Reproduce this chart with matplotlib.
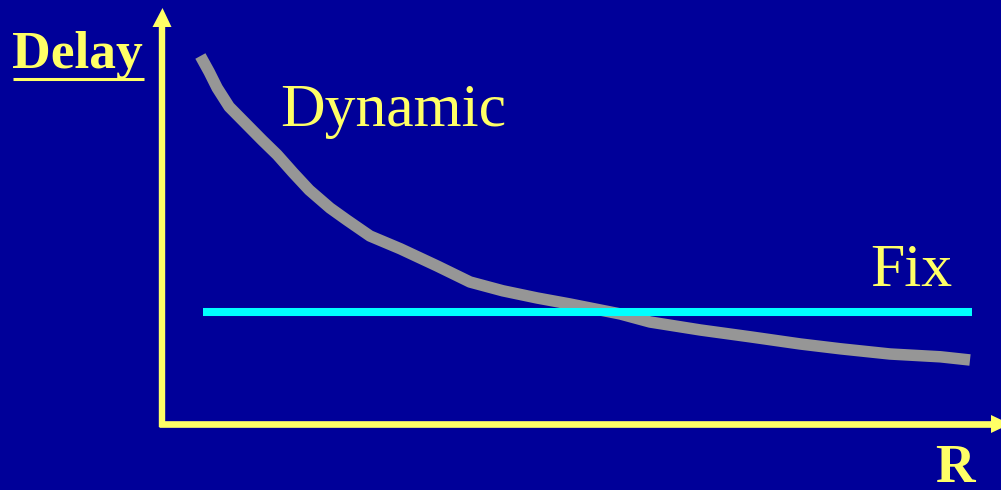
import matplotlib
matplotlib.use("Agg")
import matplotlib.pyplot as plt
from matplotlib.patches import Polygon

# ---- data (R units horizontally, Delay units vertically) ----
dynamic_r = [0.48, 0.59, 0.69, 0.84, 1.25, 1.44, 1.64, 1.84, 2.10, 2.31, 2.60,
             2.98, 3.44, 3.85, 4.26, 4.69, 5.10, 5.73, 6.10, 6.73, 7.35, 7.98,
             8.48, 9.10, 9.73, 10.10]
dynamic_delay = [9.20, 8.80, 8.40, 7.93, 7.10, 6.73, 6.28, 5.85, 5.40, 5.10, 4.70,
                 4.38, 3.95, 3.55, 3.33, 3.15, 3.00, 2.75, 2.55, 2.35, 2.18, 2.00,
                 1.88, 1.75, 1.68, 1.60]
fix_r = [0.51, 10.12]
fix_delay = [2.80, 2.80]

label_y = "Delay"
label_x = "R"
label_dynamic = "Dynamic"
label_fix = "Fix"

BG = "#000099"
YELLOW = "#FFFF66"
GRAY = "#969696"
CYAN = "#00FFFF"

W, H = 1001, 490
fig = plt.figure(figsize=(W / 100, H / 100), dpi=100, facecolor=BG)
ax = fig.add_axes([0, 0, 1, 1])
ax.set_facecolor(BG)
ax.axis("off")

# pixel origin (162, 424); 80 px per R unit, 40 px per Delay unit
ox, oy, sx, sy = 162, 424, 80.0, 40.0
ax.set_xlim((0 - ox) / sx, (W - ox) / sx)
ax.set_ylim((oy - H) / sy, (oy - 0) / sy)

def px(x):
    return x / sx

def py(y):
    return y / sy

# axes with arrows
ax.plot([0, 0], [py(-3), py(398)], color=YELLOW, lw=4.6, solid_capstyle="butt", zorder=3)
ax.plot([px(-3), px(830)], [0, 0], color=YELLOW, lw=4.8, solid_capstyle="butt", zorder=3)
ax.add_patch(Polygon([[px(-9.5), py(397)], [px(9.5), py(397)], [px(0.5), py(416)]],
                     closed=True, color=YELLOW, lw=0, zorder=3))
ax.add_patch(Polygon([[px(829), py(-9)], [px(829), py(9)], [px(848), 0]],
                     closed=True, color=YELLOW, lw=0, zorder=3))

# series
ax.plot(dynamic_r, dynamic_delay, color=GRAY, lw=8.3, solid_capstyle="butt",
        solid_joinstyle="round", zorder=4)
ax.plot(fix_r, fix_delay, color=CYAN, lw=5.8, solid_capstyle="butt", zorder=5)

serif = ["Liberation Serif", "DejaVu Serif"]

def fx(x):
    return x / W

def fy(y):
    return (H - y) / H

fig.text(fx(12), fy(68), label_y, color=YELLOW, fontsize=38.5, fontweight="bold",
         family=serif, ha="left", va="baseline")
# underline of "Delay"
ax.plot([px(13 - ox), px(144 - ox)], [py(oy - 79.2), py(oy - 79.2)], color=YELLOW,
        lw=2.2, solid_capstyle="butt")
fig.text(fx(935), fy(482), label_x, color=YELLOW, fontsize=39.5, fontweight="bold",
         family=serif, ha="left", va="baseline")
fig.text(fx(280), fy(126), label_dynamic, color=YELLOW, fontsize=44.5,
         family=serif, ha="left", va="baseline")
fig.text(fx(870), fy(286), label_fix, color=YELLOW, fontsize=44.5,
         family=serif, ha="left", va="baseline")

fig.savefig("out.png", dpi=100, facecolor=BG)
